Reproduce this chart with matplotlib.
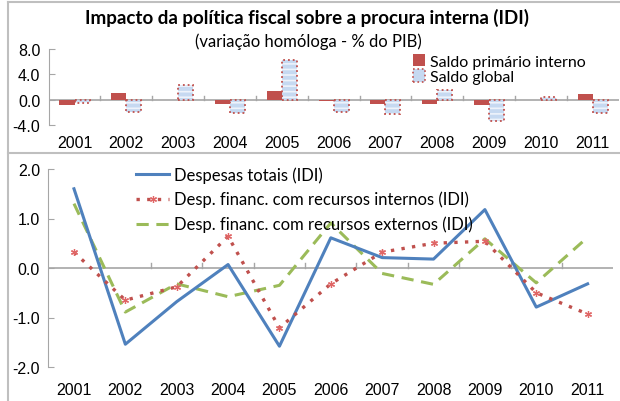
import numpy as np
import matplotlib
matplotlib.use("Agg")
import matplotlib.pyplot as plt
from matplotlib.lines import Line2D
from matplotlib.patches import Patch

years = ["2001", "2002", "2003", "2004", "2005", "2006", "2007", "2008", "2009", "2010", "2011"]

# top panel: bars
saldo_primario = [-0.85, 1.05, -0.05, -0.7, 1.4, -0.25, -0.75, -0.75, -0.85, -0.05, 0.9]
saldo_global = [-0.6, -1.95, 2.3, -2.05, 6.3, -1.95, -2.2, 1.6, -3.3, 0.5, -2.1]

# bottom panel: lines
desp_totais = [1.60, -1.54, -0.68, 0.07, -1.58, 0.61, 0.21, 0.18, 1.18, -0.79, -0.32]
desp_internos = [0.32, -0.65, -0.38, 0.64, -1.21, -0.32, 0.32, 0.50, 0.54, -0.50, -0.93]
desp_externos = [1.30, -0.89, -0.32, -0.58, -0.35, 0.91, -0.11, -0.33, 0.59, -0.30, 0.62]

RED = "#C0504D"
BLUE_FILL = "#C6D9F1"
BLUE = "#4F81BD"
GREEN = "#9BBB59"
GRID = "#A6A6A6"
TXT = "Lato"
NUM = "Liberation Sans"

plt.rcParams["hatch.linewidth"] = 1.2

fig = plt.figure(figsize=(6.2, 4.02), dpi=100)
W, H = 620, 402


def fx(px):
    return px / W


def fy(py):
    return 1 - py / H


x = np.arange(len(years))


def style_axis(ax, ymin, ymax, height_px, tick_px=4):
    ax.set_xlim(-0.5, len(years) - 0.5)
    ax.set_ylim(ymin, ymax)
    for s in ["top", "right", "bottom"]:
        ax.spines[s].set_visible(False)
    ax.spines["left"].set_color(GRID)
    ax.axhline(0, color=GRID, lw=1.2, zorder=1)
    # category separators: small ticks above the zero line
    tick = (ymax - ymin) * tick_px / height_px
    for b in np.arange(0.5, len(years) - 0.5, 1):
        ax.plot([b, b], [0, tick], color=GRID, lw=1, zorder=1)
    ax.tick_params(axis="y", direction="in", length=4, color=GRID, labelsize=11.5, pad=6)
    ax.tick_params(axis="x", length=0, labelsize=11.5)
    ax.set_xticks(x)
    ax.set_xticklabels(years, fontfamily=NUM)


# ---- top panel ----
ax1 = fig.add_axes([fx(48.6), fy(126), fx(570), fy(50) - fy(126)])
w = 0.29
ax1.bar(x - w / 2, saldo_primario, w, color=RED, lw=0, zorder=2)
ax1.bar(x + w / 2, saldo_global, w, color=BLUE_FILL, edgecolor="#EEF3FB", hatch="---", lw=0, zorder=2)
ax1.bar(x + w / 2, saldo_global, w, fill=False, edgecolor=RED, ls=":", lw=1.3, zorder=3)
style_axis(ax1, -4, 8, 76, tick_px=3.5)
ax1.set_yticks([-4, 0, 4, 8])
ax1.set_yticklabels(["-4.0", "0.0", "4.0", "8.0"], fontfamily=NUM)
ax1.tick_params(axis="x", pad=(140 - 126) - 7)

h1 = Patch(facecolor=RED, edgecolor="none")
h2 = Patch(facecolor=BLUE_FILL, edgecolor=RED, ls=":", lw=1.2)
fig.legend([h1, h2], ["Saldo primário interno", "Saldo global"],
           loc="upper left", bbox_to_anchor=(fx(413), fy(55)), frameon=False,
           prop={"family": TXT, "size": 11.5}, handlelength=0.75, handleheight=0.8,
           handletextpad=0.3, labelspacing=0.05, borderpad=0, borderaxespad=0)

fig.text(fx(307), fy(18), "Impacto da política fiscal sobre a procura interna (IDI)",
         ha="center", va="center", fontsize=13.5, fontweight="bold", fontfamily=TXT)
fig.text(fx(308), fy(42), "(variação homóloga - % do PIB)",
         ha="center", va="center", fontsize=12, fontfamily=TXT)

# ---- bottom panel ----
ax2 = fig.add_axes([fx(48.3), fy(368), fx(565), fy(170) - fy(368)])
ax2.plot(x, desp_totais, color=BLUE, lw=2.2, zorder=3, label="Despesas totais (IDI)")
ax2.plot(x, desp_internos, color=RED, ls=(0, (1, 2.2)), lw=2.4, marker=(6, 2, 0),
         ms=5, mew=0.9, mec="#E06666", zorder=4,
         label="Desp. financ. com recursos internos (IDI)")
ax2.plot(x, desp_externos, color=GREEN, ls=(0, (4, 2.5)), lw=2.2, zorder=2,
         label="Desp. financ. com recursos externos (IDI)")
style_axis(ax2, -2, 2, 198, tick_px=5)
ax2.set_yticks([-2, -1, 0, 1, 2])
ax2.set_yticklabels(["-2.0", "-1.0", "0.0", "1.0", "2.0"], fontfamily=NUM)
ax2.tick_params(axis="x", pad=(386 - 368) - 7)
ax2.legend(loc="upper left", bbox_to_anchor=(fx(136), fy(167)), bbox_transform=fig.transFigure,
           frameon=False, prop={"family": TXT, "size": 12}, handlelength=2.0,
           handletextpad=0.3, labelspacing=0.5, borderpad=0, borderaxespad=0)

# frame lines as in the source panel
for seg in [((8, 620), (3, 3)), ((8, 8), (3, 402)), ((8, 620), (154, 154))]:
    fig.add_artist(Line2D([fx(seg[0][0]), fx(seg[0][1])], [fy(seg[1][0]), fy(seg[1][1])],
                          color="#BFBFBF", lw=1.5))

fig.savefig("out.png", dpi=100)
